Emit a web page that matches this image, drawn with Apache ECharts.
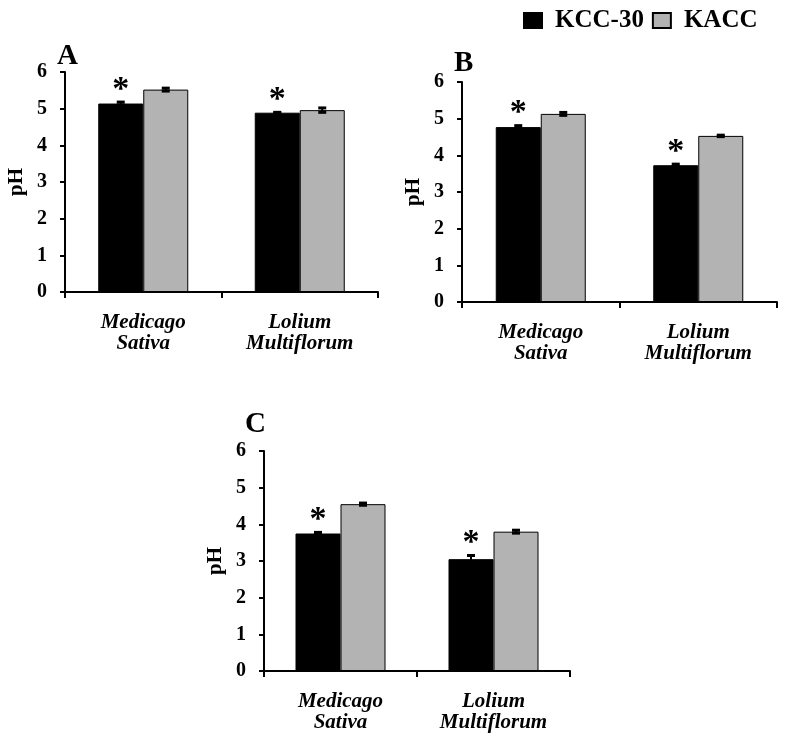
<!DOCTYPE html>
<html>
<head>
<meta charset="utf-8">
<script src="https://cdn.jsdelivr.net/npm/echarts@6/dist/echarts.min.js"></script>
<style>html,body{margin:0;padding:0;background:#fff}#c{width:786px;height:749px}</style>
</head>
<body>
<div id="c"></div>
<script>
// ---- Data ----
const categories = ['Medicago Sativa', 'Lolium Multiflorum'];
const seriesNames = ['KCC-30', 'KACC'];
const yTicks = [0, 1, 2, 3, 4, 5, 6];
const panelLabels = ['A', 'B', 'C'];

const kcc30A = [5.14, 4.89];
const kaccA  = [5.52, 4.96];
const kcc30ErrA = [0.04, 0.01];
const kaccErrA  = [0.04, 0.06];

const kcc30B = [4.77, 3.73];
const kaccB  = [5.13, 4.53];
const kcc30ErrB = [0.04, 0.03];
const kaccErrB  = [0.04, 0.02];

const kcc30C = [3.75, 3.05];
const kaccC  = [4.55, 3.80];
const kcc30ErrC = [0.03, 0.10];
const kaccErrC  = [0.03, 0.04];

const sigA = [true, true];
const sigB = [true, true];
const sigC = [true, true];

// ---- Styling ----
const FONT = '"Liberation Serif", "Times New Roman", serif';
const BAR_W = 45;
const grids = [
  {left: 65, top: 72, width: 313, height: 220},
  {left: 462, top: 82, width: 315, height: 220},
  {left: 264, top: 451, width: 306, height: 220}
];
const panels = [
  {k: kcc30A, a: kaccA, ke: kcc30ErrA, ae: kaccErrA, sig: sigA},
  {k: kcc30B, a: kaccB, ke: kcc30ErrB, ae: kaccErrB, sig: sigB},
  {k: kcc30C, a: kaccC, ke: kcc30ErrC, ae: kaccErrC, sig: sigC}
];
const letterPos = [[57, 42], [454, 49], [245, 410]];

function errRender(side) {
  return function (params, api) {
    const i = api.value(0), v = api.value(1), e = api.value(2);
    const x = api.coord([i, v])[0] + side * BAR_W / 2;
    const yt = api.coord([i, v + e])[1];
    const yb = api.coord([i, v - e])[1];
    const st = {stroke: '#000', lineWidth: 2};
    const cap = {stroke: '#000', lineWidth: 3};
    return {type: 'group', children: [
      {type: 'line', shape: {x1: x, y1: yt, x2: x, y2: yb}, style: st},
      {type: 'line', shape: {x1: x - 4, y1: yt, x2: x + 4, y2: yt}, style: cap},
      {type: 'line', shape: {x1: x - 4, y1: yb, x2: x + 4, y2: yb}, style: cap}
    ]};
  };
}
function starRender(params, api) {
  const i = api.value(0), v = api.value(1), e = api.value(2);
  const p = api.coord([i, v + e]);
  return {type: 'text', x: p[0] - BAR_W / 2, y: p[1] + 5,
    style: {text: '*', font: 'bold 34px ' + FONT, fill: '#000', align: 'center', verticalAlign: 'bottom'}};
}

const xAxes = [], yAxes = [], series = [], graphics = [];
grids.forEach((g, gi) => {
  xAxes.push({
    gridIndex: gi, type: 'category', data: categories,
    axisLine: {lineStyle: {color: '#000', width: 2}},
    axisTick: {show: true, length: 6, lineStyle: {color: '#000', width: 2}},
    axisLabel: {
      margin: 20, color: '#000', fontFamily: FONT, fontSize: 21, fontWeight: 'bold',
      fontStyle: 'italic', lineHeight: 21,
      formatter: v => v.replace(' ', '\n')
    }
  });
  yAxes.push({
    gridIndex: gi, type: 'value', min: yTicks[0], max: yTicks[yTicks.length - 1], interval: 1,
    name: 'pH', nameLocation: 'middle', nameGap: 38,
    nameTextStyle: {color: '#000', fontFamily: FONT, fontSize: 21, fontWeight: 'bold'},
    axisLine: {show: true, lineStyle: {color: '#000', width: 2}},
    axisTick: {show: true, length: 5, lineStyle: {color: '#000', width: 2}},
    splitLine: {show: false},
    axisLabel: {margin: 18, color: '#000', fontFamily: FONT, fontSize: 20, fontWeight: 'bold'}
  });
  const p = panels[gi];
  series.push({
    name: seriesNames[0], type: 'bar', xAxisIndex: gi, yAxisIndex: gi,
    data: p.k, barWidth: BAR_W, barGap: '0%',
    itemStyle: {color: '#000', borderColor: '#000', borderWidth: 1}
  });
  series.push({
    name: seriesNames[1], type: 'bar', xAxisIndex: gi, yAxisIndex: gi,
    data: p.a, barWidth: BAR_W, barGap: '0%',
    itemStyle: {color: '#b3b3b3', borderColor: '#000', borderWidth: 1}
  });
  series.push({
    type: 'custom', xAxisIndex: gi, yAxisIndex: gi, z: 5, silent: true,
    renderItem: errRender(-1), encode: {x: 0, y: 1},
    data: p.k.map((v, i) => [i, v, p.ke[i]])
  });
  series.push({
    type: 'custom', xAxisIndex: gi, yAxisIndex: gi, z: 5, silent: true,
    renderItem: errRender(1), encode: {x: 0, y: 1},
    data: p.a.map((v, i) => [i, v, p.ae[i]])
  });
  series.push({
    type: 'custom', xAxisIndex: gi, yAxisIndex: gi, z: 6, silent: true,
    renderItem: starRender, encode: {x: 0, y: 1},
    data: p.k.map((v, i) => [i, v, p.ke[i]]).filter((d, i) => p.sig[i])
  });
  graphics.push({
    type: 'text', left: letterPos[gi][0], top: letterPos[gi][1],
    style: {text: panelLabels[gi], font: 'bold 29px ' + FONT, fill: '#000'}
  });
});

const chart = echarts.init(document.getElementById('c'));
chart.setOption({
  animation: false,
  backgroundColor: '#fff',
  legend: {
    data: seriesNames, left: 518, top: 3, itemWidth: 18, itemHeight: 15, itemGap: 8,
    icon: 'rect',
    textStyle: {color: '#000', fontFamily: FONT, fontSize: 25, fontWeight: 'bold', padding: [0, 0, 0, 8]}
  },
  grid: grids,
  xAxis: xAxes,
  yAxis: yAxes,
  series: series,
  graphic: graphics
});
</script>
</body>
</html>
